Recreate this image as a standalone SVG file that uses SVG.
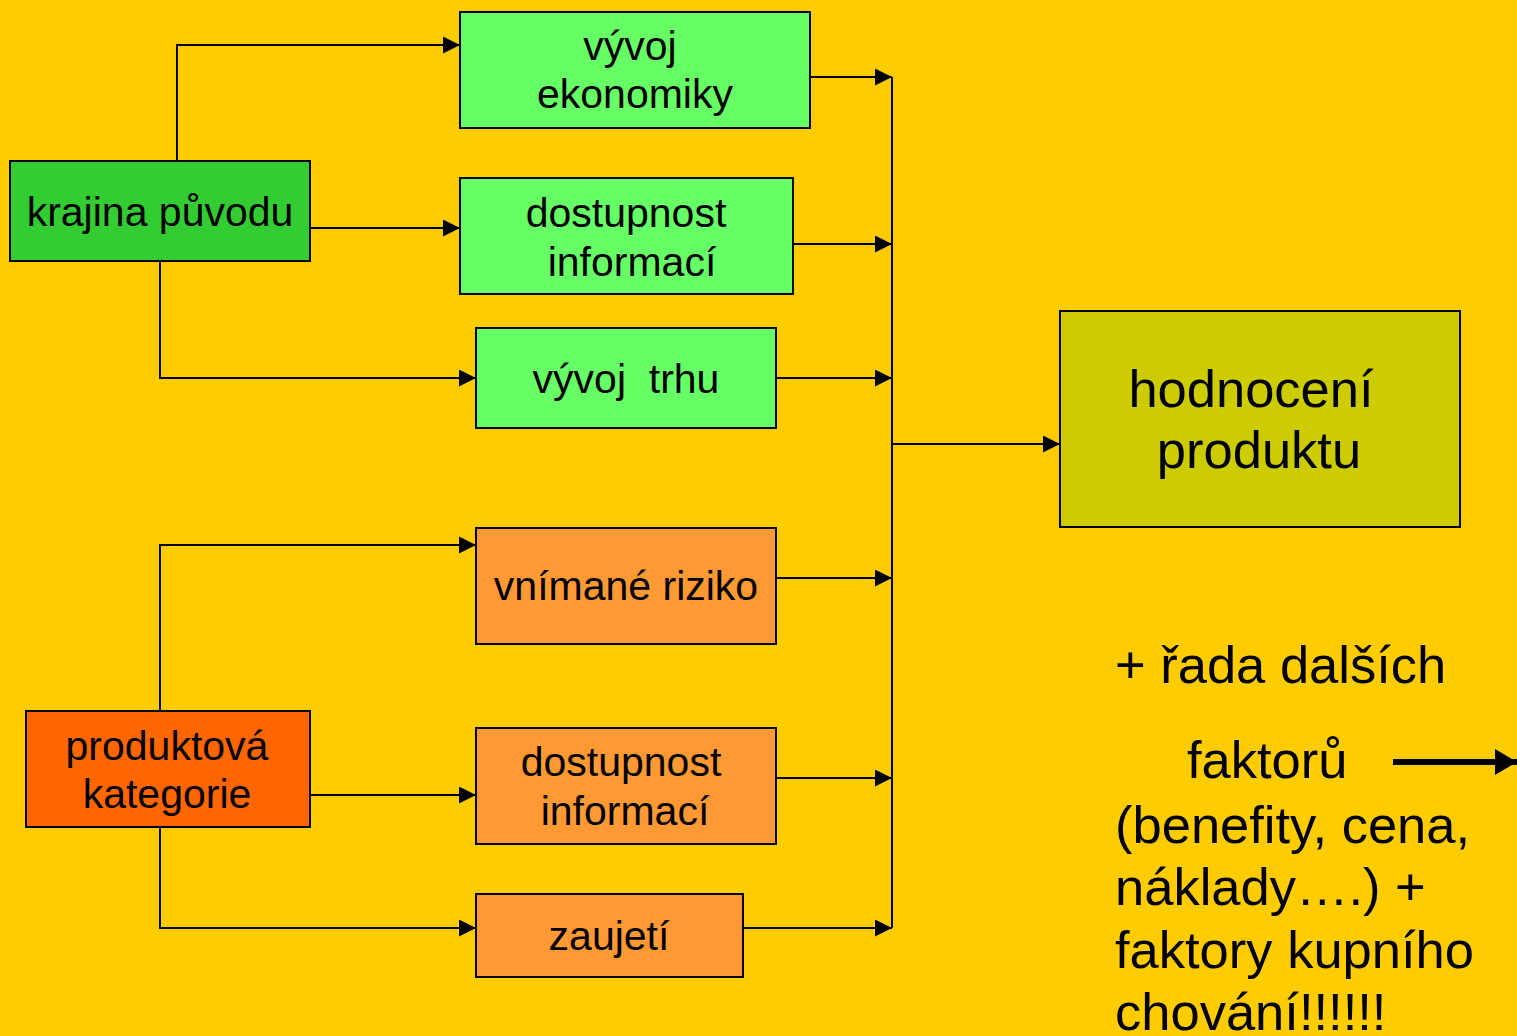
<svg xmlns="http://www.w3.org/2000/svg" width="1517" height="1036" viewBox="0 0 1517 1036">
<style>
.box{stroke:#000;stroke-width:2}
.t{font-family:"Liberation Sans",Arial,sans-serif;font-size:41px;fill:#000;text-anchor:middle}
.big{font-family:"Liberation Sans",Arial,sans-serif;font-size:52.5px;fill:#000}
.c{fill:none;stroke:#000;stroke-width:2}
</style>
<defs>
<marker id="ah" markerWidth="17" markerHeight="17" refX="17" refY="8.5" orient="auto" markerUnits="userSpaceOnUse">
<path d="M0,0 L17,8.5 L0,17 Z" fill="#000"/>
</marker>
<marker id="ahb" markerWidth="22" markerHeight="26" refX="22" refY="13" orient="auto" markerUnits="userSpaceOnUse">
<path d="M0,0 L22,13 L0,26 Z" fill="#000"/>
</marker>
</defs>
<rect width="1517" height="1036" fill="#FFCC00"/>
<g id="connectors">
<path class="c" d="M177,161 V45 H460" marker-end="url(#ah)"/>
<path class="c" d="M310,228 H460" marker-end="url(#ah)"/>
<path class="c" d="M160,261 V378 H476" marker-end="url(#ah)"/>
<path class="c" d="M160,711 V545 H476" marker-end="url(#ah)"/>
<path class="c" d="M310,795 H476" marker-end="url(#ah)"/>
<path class="c" d="M160,827 V928 H476" marker-end="url(#ah)"/>
<path class="c" d="M810,77 H892" marker-end="url(#ah)"/>
<path class="c" d="M793,244 H892" marker-end="url(#ah)"/>
<path class="c" d="M776,378 H892" marker-end="url(#ah)"/>
<path class="c" d="M776,578 H892" marker-end="url(#ah)"/>
<path class="c" d="M776,778 H892" marker-end="url(#ah)"/>
<path class="c" d="M743,928 H892" marker-end="url(#ah)"/>
<path class="c" d="M892,77 V928"/>
<path class="c" d="M892,444 H1060" marker-end="url(#ah)"/>
<path fill="none" stroke="#000" stroke-width="6" d="M1393,762 H1517" marker-end="url(#ahb)"/>
</g>
<g id="vyvoj-ekonomiky">
<rect class="box" x="460" y="12" width="350" height="116" fill="#66FF66"/>
<text class="t" x="630" y="60">vývoj</text>
<text class="t" x="635" y="108">ekonomiky</text>
</g>
<g id="krajina-puvodu">
<rect class="box" x="10" y="161" width="300" height="100" fill="#33CC33"/>
<text class="t" x="160" y="226">krajina původu</text>
</g>
<g id="dostupnost-informaci-1">
<rect class="box" x="460" y="178" width="333" height="116" fill="#66FF66"/>
<text class="t" x="626" y="227">dostupnost</text>
<text class="t" x="632" y="276">informací</text>
</g>
<g id="vyvoj-trhu">
<rect class="box" x="476" y="328" width="300" height="100" fill="#66FF66"/>
<text class="t" x="626" y="393" xml:space="preserve">vývoj  trhu</text>
</g>
<g id="hodnoceni-produktu">
<rect class="box" x="1060" y="311" width="400" height="216" fill="#CCCC00"/>
<text class="big" x="1251" y="407" text-anchor="middle">hodnocení</text>
<text class="big" x="1259" y="468" text-anchor="middle">produktu</text>
</g>
<g id="vnimane-riziko">
<rect class="box" x="476" y="528" width="300" height="116" fill="#FF9933"/>
<text class="t" x="626" y="600">vnímané riziko</text>
</g>
<g id="produktova-kategorie">
<rect class="box" x="26" y="711" width="284" height="116" fill="#FF6600"/>
<text class="t" x="167" y="760">produktová</text>
<text class="t" x="167" y="808">kategorie</text>
</g>
<g id="dostupnost-informaci-2">
<rect class="box" x="476" y="728" width="300" height="116" fill="#FF9933"/>
<text class="t" x="621" y="776">dostupnost</text>
<text class="t" x="625" y="825">informací</text>
</g>
<g id="zaujeti">
<rect class="box" x="476" y="894" width="267" height="83" fill="#FF9933"/>
<text class="t" x="609" y="950">zaujetí</text>
</g>
<g id="note">
<text class="big" x="1115" y="683">+ řada dalších</text>
<text class="big" x="1187" y="778">faktorů</text>
<text class="big" x="1115" y="843">(benefity, cena,</text>
<text class="big" x="1115" y="905">náklady….) +</text>
<text class="big" x="1115" y="968">faktory kupního</text>
<text class="big" x="1115" y="1030">chování!!!!!!</text>
</g>
</svg>
